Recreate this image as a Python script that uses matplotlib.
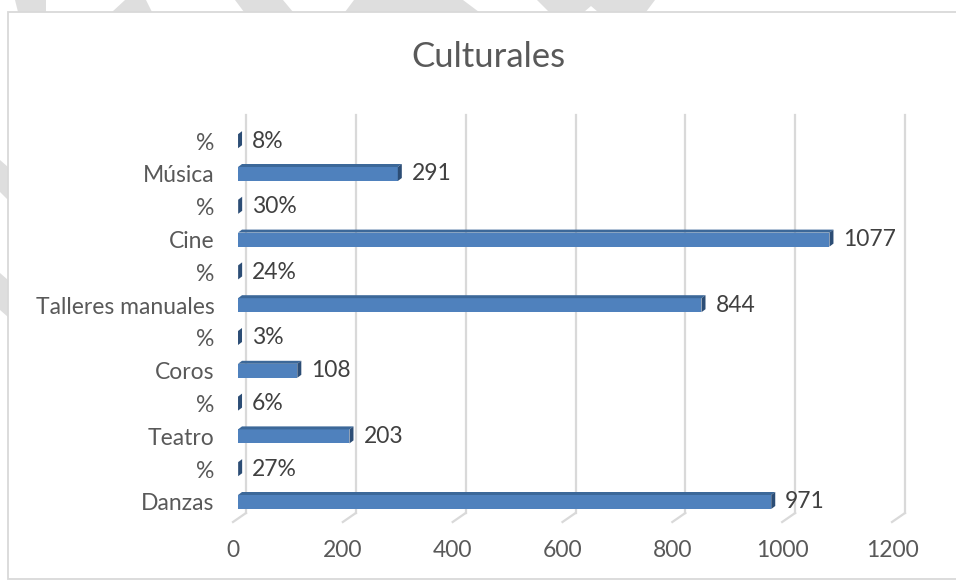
import matplotlib.pyplot as plt
from matplotlib.patches import Polygon, Rectangle
from matplotlib.transforms import ScaledTranslation

# data, bottom to top as drawn
categories = ['Danzas', '%', 'Teatro', '%', 'Coros', '%',
              'Talleres manuales', '%', 'Cine', '%', 'Música', '%']
values = [971, 0.27, 203, 0.06, 108, 0.03, 844, 0.24, 1077, 0.30, 291, 0.08]
is_percent = [False, True] * 6
x_ticks = [0, 200, 400, 600, 800, 1000, 1200]
title = 'Culturales'

W, H = 956, 581
FONT = 'Lato'
TICK_COLOR = '#595959'
LABEL_COLOR = '#404040'
GRID = '#d9d9d9'
FACE = '#4f81bd'
TOP = '#3c6899'
SIDE = '#2c4d75'

fig = plt.figure(figsize=(W / 100, H / 100), dpi=100)

def fx(px):
    return px / W

def fy(py):
    return 1 - py / H

# gray watermark pieces peeking out above/left of the chart frame
marks = [
    [(15, 0), (46, 0), (46, 12), (18, 12)],
    [(125, 0), (146, 0), (152, 12), (112, 12)],
    [(235, 0), (283, 0), (293, 12), (244, 12)],
    [(354, 0), (463, 0), (479, 12), (345, 12)],
    [(537, 0), (655, 0), (646, 12), (598, 12), (591, 6), (584, 12), (549, 12)],
    [(0, 160), (8, 167), (8, 200), (0, 192)],
    [(0, 273), (8, 280), (8, 317), (0, 310)],
]
for m in marks:
    fig.patches.append(Polygon([(fx(a), fy(b)) for a, b in m], closed=True,
                               transform=fig.transFigure, facecolor='#dedede',
                               edgecolor='none', zorder=-3))
fig.patches.append(Rectangle((fx(8), fy(579)), fx(W + 5) - fx(8), fy(12) - fy(579),
                             transform=fig.transFigure, facecolor='white',
                             edgecolor='#d9d9d9', lw=1.3, zorder=-2))

# plot area in pixels
x0, x1 = 238, 897
row_px = 32.8
y_first = 502          # centre of the bottom row
top_px, floor_back, floor_front = 115, 513, 522

ax = fig.add_axes([fx(x0), fy(floor_front), fx(x1) - fx(x0), fy(top_px) - fy(floor_front)])
ax.set_xlim(0, 1200)
ax.set_ylim(-(floor_front - y_first) / row_px, (y_first - top_px) / row_px)
ax.patch.set_visible(False)
for s in ax.spines.values():
    s.set_visible(False)

ux = 1200 / (x1 - x0)   # data units per pixel (x)
uy = 1 / row_px         # data units per pixel (y)

# back-wall gridlines with slanted floor ticks
y_fb = -(floor_back - y_first) * uy
y_ff = -(floor_front - y_first) * uy
for t in x_ticks:
    xb = t + 8 * ux
    ax.plot([xb, xb], [ax.get_ylim()[1], y_fb], color=GRID, lw=1.6, zorder=1, clip_on=False)
    ax.plot([xb, t - 5 * ux], [y_fb, y_ff], color=GRID, lw=1.6, zorder=1, clip_on=False)

# 3d-looking bars
bh = 14 * uy
dx, dy = 4 * ux, 3 * uy
for i, (v, pct) in enumerate(zip(values, is_percent)):
    b, t = i - bh / 2, i + bh / 2
    ax.barh(i, v, height=bh, color=FACE, zorder=3)
    ax.add_patch(Polygon([(0, t), (v, t), (v + dx, t + dy), (dx, t + dy)],
                         closed=True, facecolor=TOP, edgecolor='none', zorder=3))
    ax.add_patch(Polygon([(v, b), (v, t), (v + dx, t + dy), (v + dx, b + dy)],
                         closed=True, facecolor=SIDE, edgecolor='none', zorder=3))
    txt = f'{v:.0%}' if pct else f'{v:g}'
    ax.text(v + 14 * ux, i, txt, ha='left', va='center', fontsize=16.5,
            family=FONT, color=LABEL_COLOR, zorder=4)

ax.set_yticks(range(len(categories)))
ax.set_yticklabels(categories, family=FONT, fontsize=16.5, color=TICK_COLOR)
ax.set_xticks(x_ticks)
ax.set_xticklabels([str(t) for t in x_ticks], family=FONT, fontsize=16.5, color=TICK_COLOR)
ax.tick_params(axis='y', length=0, pad=17)
ax.tick_params(axis='x', length=0, pad=13)
shift = ScaledTranslation(-5 / 100, 0, fig.dpi_scale_trans)
for lab in ax.get_xticklabels():
    lab.set_transform(lab.get_transform() + shift)

fig.text(fx(488), fy(57), title, ha='center', va='center', fontsize=25,
         family=FONT, color=TICK_COLOR)

fig.savefig('out.png', dpi=100)
